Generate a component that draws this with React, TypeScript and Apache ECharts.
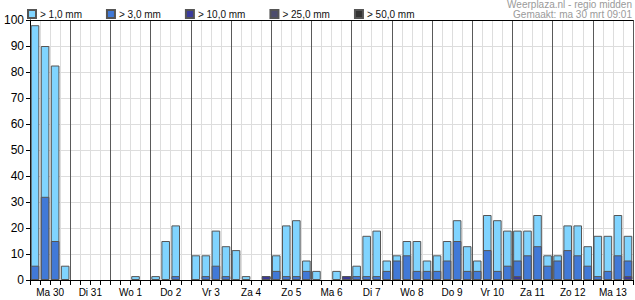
import React, { useEffect, useRef } from "react";
import * as echarts from "echarts";

const days = ["Ma 30", "Di 31", "Wo 1", "Do 2", "Vr 3", "Za 4", "Zo 5", "Ma 6", "Di 7", "Wo 8", "Do 9", "Vr 10", "Za 11", "Zo 12", "Ma 13"];
const hours = ["00", "06", "12", "18"];
const seriesNames = ["> 1,0 mm", "> 3,0 mm", "> 10,0 mm", "> 25,0 mm", "> 50,0 mm"];
const seriesColors = ["#80d4ff", "#4179d7", "#3b3b9c", "#4d4d6d", "#333333"];
const yTicks = [0, 10, 20, 30, 40, 50, 60, 70, 80, 90, 100];

const over1 = [
  98, 90, 82.5, 5.5,
  0, 0, 0, 0,
  0, 0, 1.5, 0,
  1.5, 15, 21, 0,
  9.5, 9.5, 19, 13,
  11.5, 1.5, 0, 1.5,
  9.5, 21, 23, 7.5,
  3.5, 0, 3.5, 1.5,
  5.5, 17, 19, 7.5,
  9.5, 15, 15, 7.5,
  9.5, 15, 23, 13,
  7.5, 25, 23, 19,
  19, 19, 25, 9.5,
  9.5, 21, 21, 13,
  17, 17, 25, 17,
];
const over3 = [
  5.5, 32, 15, 0,
  0, 0, 0, 0,
  0, 0, 0, 0,
  0, 0, 1.5, 0,
  0, 1.5, 5.5, 1.5,
  0, 0, 0, 1.5,
  3.5, 1.5, 1.5, 3.5,
  0, 0, 0, 1.5,
  1.5, 1.5, 1.5, 3.5,
  7.5, 9.5, 3.5, 3.5,
  3.5, 7.5, 15, 3.5,
  3.5, 11.5, 3.5, 5.5,
  7.5, 9.5, 13, 5.5,
  7.5, 11.5, 9.5, 5.5,
  1.5, 3.5, 9.5, 7.5,
];
const over10 = [
  0, 0, 0, 0,
  0, 0, 0, 0,
  0, 0, 0, 0,
  0, 0, 0, 0,
  0, 0, 0, 0,
  0, 0, 0, 1.5,
  0, 0, 0, 0,
  0, 0, 0, 1.5,
  0, 0, 0, 0,
  0, 0, 0, 0,
  0, 0, 0, 0,
  0, 0, 0, 0,
  1.5, 0, 0, 0,
  0, 0, 0, 0,
  0, 0, 0, 1.5,
];
const over25 = [
  0, 0, 0, 0, 0, 0, 0, 0, 0, 0, 0, 0, 0, 0, 0, 0, 0, 0, 0, 0,
  0, 0, 0, 0, 0, 0, 0, 0, 0, 0, 0, 0, 0, 0, 0, 0, 0, 0, 0, 0,
  0, 0, 0, 0, 0, 0, 0, 0, 0, 0, 0, 0, 0, 0, 0, 0, 0, 0, 0, 0,
];
const over50 = [
  0, 0, 0, 0, 0, 0, 0, 0, 0, 0, 0, 0, 0, 0, 0, 0, 0, 0, 0, 0,
  0, 0, 0, 0, 0, 0, 0, 0, 0, 0, 0, 0, 0, 0, 0, 0, 0, 0, 0, 0,
  0, 0, 0, 0, 0, 0, 0, 0, 0, 0, 0, 0, 0, 0, 0, 0, 0, 0, 0, 0,
];
const sourceLine = "Weerplaza.nl - regio midden";
const madeLine = "Gemaakt: ma 30 mrt 09:01";

const slots = days.flatMap((d) => hours.map((h) => `${d} ${h}`));
const allSeries = [over1, over3, over10, over25, over50];

export default function App() {
  const ref = useRef<HTMLDivElement>(null);
  useEffect(() => {
    document.body.style.margin = "0";
    const chart = echarts.init(ref.current!, undefined, { renderer: "svg" });
    const font = "'Liberation Sans', Arial, sans-serif";
    chart.setOption({
      animation: false,
      textStyle: { fontFamily: font },
      grid: { left: 30, right: 2, top: 20, bottom: 20, containLabel: false },
      legend: {
        data: seriesNames,
        left: 27,
        top: 9,
        icon: "rect",
        itemWidth: 8,
        itemHeight: 8,
        itemGap: 24,
        padding: 0,
        textStyle: { fontSize: 10, color: "#111", fontFamily: font, padding: [0, 0, 0, -1] },
      },
      graphic: [
        {
          type: "text",
          x: 632,
          y: 4,
          style: { text: sourceLine, align: "right", verticalAlign: "middle", fontSize: 10, fontFamily: font, fill: "#9a9a9a" },
        },
        {
          type: "text",
          x: 632,
          y: 14,
          style: { text: madeLine, align: "right", verticalAlign: "middle", fontSize: 10, fontFamily: font, fill: "#9a9a9a" },
        },
      ],
      xAxis: [
        {
          type: "category",
          data: slots,
          boundaryGap: true,
          axisLine: { show: true, lineStyle: { color: "#000", width: 1 } },
          axisTick: { show: true, interval: 0, length: 5, lineStyle: { color: "#000" } },
          axisLabel: { show: false },
          splitLine: { show: true, interval: 0, lineStyle: { color: "#dddddd", width: 1 } },
        },
        {
          type: "category",
          data: days,
          position: "bottom",
          boundaryGap: true,
          axisLine: { show: false },
          axisTick: { show: false },
          axisLabel: { show: true, interval: 0, fontSize: 10, color: "#000", margin: 7, fontFamily: font },
          splitLine: { show: true, interval: 0, lineStyle: { color: "#5a5a5a", width: 1 } },
        },
        {
          type: "category",
          data: days,
          position: "top",
          axisLine: { show: true, lineStyle: { color: "#000", width: 1 } },
          axisTick: { show: false },
          axisLabel: { show: false },
          splitLine: { show: false },
        },
      ],
      yAxis: {
        type: "value",
        min: yTicks[0],
        max: yTicks[yTicks.length - 1],
        interval: yTicks[1] - yTicks[0],
        axisLine: { show: true, lineStyle: { color: "#000", width: 1 } },
        axisTick: { show: true, length: 4, lineStyle: { color: "#000" } },
        axisLabel: { fontSize: 12, color: "#000", margin: 6, fontFamily: font },
        splitLine: { show: true, lineStyle: { color: "#dddddd", width: 1 } },
      },
      series: seriesNames.map((name, i) => ({
        name,
        type: "bar",
        xAxisIndex: 0,
        barWidth: 8.6,
        barGap: "-100%",
        itemStyle: { color: seriesColors[i], borderColor: "#555555", borderWidth: 1 },
        emphasis: { disabled: true },
        data: allSeries[i].map((v) => (v > 0 ? v : "-")),
      })),
    });
    return () => chart.dispose();
  }, []);
  return <div ref={ref} style={{ width: 635, height: 300 }} />;
}
